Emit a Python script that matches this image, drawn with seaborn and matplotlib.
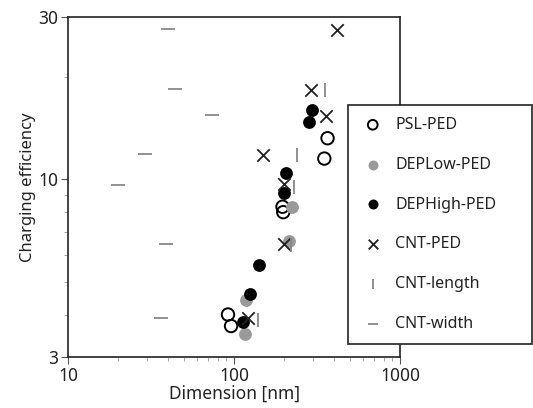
import numpy as np
import pandas as pd
import matplotlib
matplotlib.use("Agg")
import matplotlib.pyplot as plt
import matplotlib.ticker as mticker
import seaborn as sns

# values (dimension in nm, charging efficiency)
psl_x = [366, 350, 196, 198, 92, 96]
psl_y = [13.2, 11.5, 8.3, 8.0, 4.0, 3.7]

dep_low_x = [225, 215, 118, 116]
dep_low_y = [8.3, 6.6, 4.4, 3.5]

dep_high_x = [296, 284, 206, 199, 142, 124, 114]
dep_high_y = [16.0, 14.7, 10.4, 9.1, 5.6, 4.6, 3.8]

cnt_ped_x = [420, 291, 358, 149, 201, 201, 121]
cnt_ped_y = [27.4, 18.3, 15.3, 11.8, 9.7, 6.45, 3.9]

cnt_len_x = [354, 238, 231, 221, 139]
cnt_len_y = [18.3, 11.8, 9.5, 6.4, 3.86]

cnt_wid_x = [40, 44, 74, 29, 20, 39, 36.5]
cnt_wid_y = [27.6, 18.4, 15.4, 11.9, 9.6, 6.45, 3.9]

sns.set_theme(style="white")
plt.rcParams["font.family"] = ["Noto Sans", "DejaVu Sans"]

fig = plt.figure(figsize=(5.33, 4.08), dpi=100)
ax = fig.add_axes([68 / 533, 1 - 357 / 408, (400 - 68) / 533, (357 - 17) / 408])

series = [
    ("PSL-PED", psl_x, psl_y, dict(marker="o", s=80, facecolor="none", edgecolor="black", linewidth=1.4)),
    ("DEPLow-PED", dep_low_x, dep_low_y, dict(marker="o", s=85, color="#9a9a9a", linewidth=0)),
    ("DEPHigh-PED", dep_high_x, dep_high_y, dict(marker="o", s=85, color="black", linewidth=0)),
    ("CNT-PED", cnt_ped_x, cnt_ped_y, dict(marker="x", s=80, color="#222222", linewidth=1.3)),
    ("CNT-length", cnt_len_x, cnt_len_y, dict(marker="|", s=90, color="#888888", linewidth=1.3)),
    ("CNT-width", cnt_wid_x, cnt_wid_y, dict(marker="_", s=90, color="#888888", linewidth=1.3)),
]

for name, xs, ys, style in series:
    df = pd.DataFrame({"Dimension": xs, "Efficiency": ys})
    sns.scatterplot(data=df, x="Dimension", y="Efficiency", ax=ax, label=name, zorder=3, **style)

ax.set_xscale("log")
ax.set_yscale("log")
ax.set_xlim(10, 1000)
ax.set_ylim(3, 30)

ax.xaxis.set_major_locator(mticker.FixedLocator([10, 100, 1000]))
ax.xaxis.set_major_formatter(mticker.FixedFormatter(["10", "100", "1000"]))
ax.xaxis.set_minor_locator(mticker.FixedLocator(
    [20, 30, 40, 50, 60, 70, 80, 90, 200, 300, 400, 500, 600, 700, 800, 900]))
ax.xaxis.set_minor_formatter(mticker.NullFormatter())
ax.yaxis.set_major_locator(mticker.FixedLocator([3, 10, 30]))
ax.yaxis.set_major_formatter(mticker.FixedFormatter(["3", "10", "30"]))
ax.yaxis.set_minor_locator(mticker.FixedLocator([4, 5, 6, 7, 8, 9, 20]))
ax.yaxis.set_minor_formatter(mticker.NullFormatter())

ax.tick_params(which="major", direction="out", length=5, width=0.8, color="#555555",
               labelsize=12.5, labelcolor="#222222", pad=2, bottom=True, left=True)
ax.tick_params(which="minor", direction="out", length=3, width=0.6, color="#999999",
               bottom=True, left=True)

for sp in ax.spines.values():
    sp.set_color("#222222")
    sp.set_linewidth(1.2)

ax.set_xlabel("Dimension [nm]", fontsize=12.5, color="#222222", labelpad=0)
ax.set_ylabel("Charging efficiency", fontsize=12, color="#222222", labelpad=2)
ax.grid(False)

leg = ax.legend(loc="upper left",
                bbox_to_anchor=(348 / 533, 1 - 105 / 408, (532 - 348) / 533, 0),
                bbox_transform=fig.transFigure, mode="expand",
                fontsize=11.5, frameon=True, fancybox=False, borderaxespad=0,
                labelspacing=1.49, handletextpad=0.6, borderpad=0.75,
                handlelength=1.6, markerscale=0.78)
leg.get_frame().set_edgecolor("#222222")
leg.get_frame().set_linewidth(1.2)
leg.get_frame().set_alpha(1)
leg.set_zorder(10)
for t in leg.get_texts():
    t.set_color("#222222")

fig.savefig("out.png", dpi=100)
